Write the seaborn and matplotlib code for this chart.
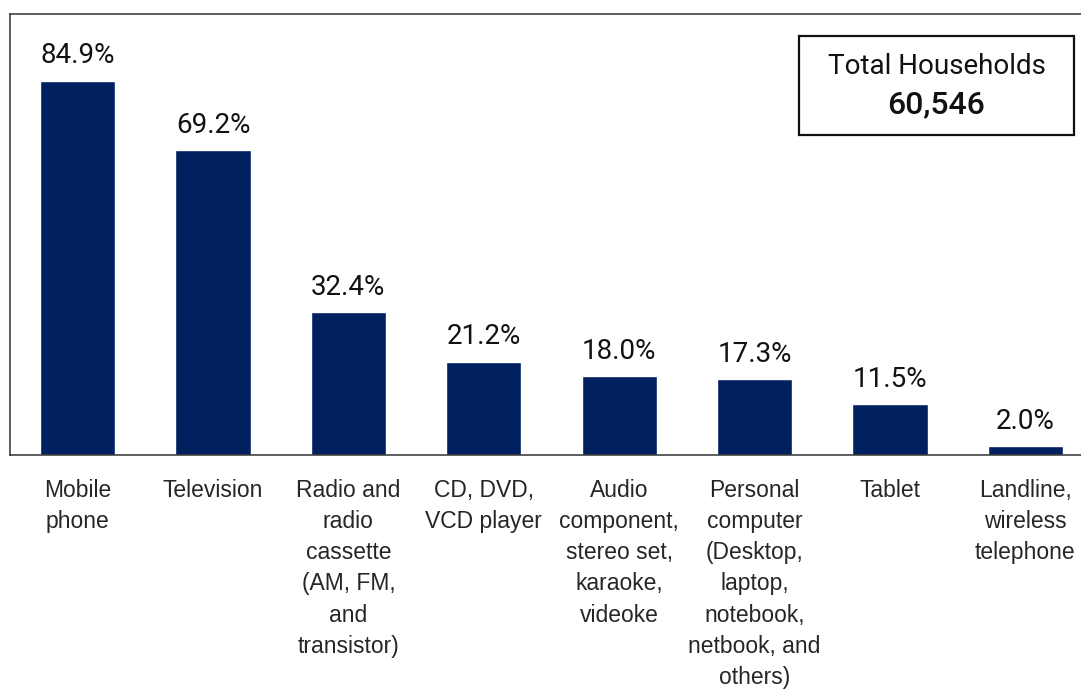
import matplotlib
matplotlib.use("Agg")
import matplotlib.pyplot as plt
import seaborn as sns
import pandas as pd
from matplotlib.patches import Rectangle

categories = [
    "Mobile\nphone",
    "Television",
    "Radio and\nradio\ncassette\n(AM, FM,\nand\ntransistor)",
    "CD, DVD,\nVCD player",
    "Audio\ncomponent,\nstereo set,\nkaraoke,\nvideoke",
    "Personal\ncomputer\n(Desktop,\nlaptop,\nnotebook,\nnetbook, and\nothers)",
    "Tablet",
    "Landline,\nwireless\ntelephone",
]
values = [84.9, 69.2, 32.4, 21.2, 18.0, 17.3, 11.5, 2.0]
total_label = "Total Households"
total_value = "60,546"

df = pd.DataFrame({"cat": categories, "val": values})

sns.set_theme(style="white")
plt.rcParams["font.family"] = ["Liberation Sans", "DejaVu Sans"]

fig = plt.figure(figsize=(10.81, 6.90), dpi=100)
ax = fig.add_axes([10 / 1081, 235 / 690, 1083 / 1081, 441 / 690])

sns.barplot(data=df, x="cat", y="val", color="#002060", width=0.555,
            saturation=1, ax=ax)

ax.set_xlim(-0.5, 7.5)
ax.set_ylim(0, 100)
ax.set_xlabel("")
ax.set_ylabel("")
ax.set_yticks([])

for s in ["top", "left", "bottom"]:
    ax.spines[s].set_visible(True)
    ax.spines[s].set_color("#333333")
    ax.spines[s].set_linewidth(1.1)
ax.spines["right"].set_visible(False)

ax.tick_params(axis="x", length=0, pad=17)
for lbl in ax.get_xticklabels():
    lbl.set_fontsize(16.5)
    lbl.set_color("#262626")
    lbl.set_linespacing(1.46)
    lbl.set_multialignment("center")
    lbl.set_va("top")

ax.bar_label(ax.containers[0], labels=[f"{v:.1f}%" for v in values],
             padding=8, fontsize=20, family="Roboto", fontweight="normal",
             color="#111111")

# Total households box
fig.add_artist(Rectangle((799 / 1081, 555 / 690), 275 / 1081, 99 / 690,
                         transform=fig.transFigure, fill=False,
                         edgecolor="#111111", linewidth=1.6))
fig.text(936.5 / 1081, 1 - 67 / 690, total_label, ha="center", va="center",
         fontsize=20, family="Roboto", fontweight="normal", color="#111111")
fig.text(936.5 / 1081, 1 - 105 / 690, total_value, ha="center", va="center",
         fontsize=23, family="Roboto", fontweight="medium", color="#111111")

fig.savefig("out.png", dpi=100)
